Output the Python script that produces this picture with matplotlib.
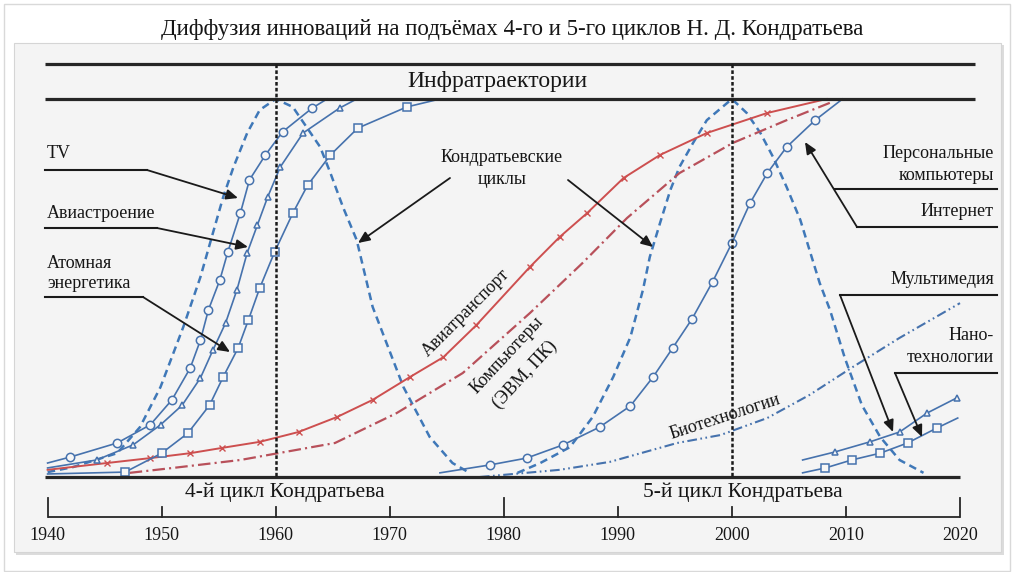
import matplotlib
matplotlib.use("Agg")
import matplotlib.pyplot as plt
import matplotlib.transforms as mtransforms
from matplotlib.patches import Rectangle

plt.rcParams['font.family'] = ['Liberation Serif', 'DejaVu Serif']
plt.rcParams['lines.scale_dashes'] = False

# ---------------- data ----------------
title = "Диффузия инноваций на подъёмах 4-го и 5-го циклов Н. Д. Кондратьева"
band_label = "Инфратраектории"
year_ticks = [1940, 1950, 1960, 1970, 1980, 1990, 2000, 2010, 2020]
major_ticks = [1940, 1980, 2020]
cycle_peaks = [1960, 2000]
cycle_labels = ["4-й цикл Кондратьева", "5-й цикл Кондратьева"]

# 4th cycle innovations (years, % of saturation)
tv_years = [1940.0, 1942.0, 1946.1, 1949.0, 1950.9, 1952.5, 1953.4, 1954.1, 1955.1,
            1955.8, 1956.9, 1957.7, 1959.1, 1960.6, 1963.2, 1964.5]
tv_pct = [3.7, 5.3, 9.0, 13.8, 20.4, 28.8, 36.2, 44.2, 52.1,
          59.5, 69.8, 78.6, 85.2, 91.3, 97.6, 100]

avia_years = [1940.0, 1944.3, 1947.5, 1949.9, 1951.8, 1953.4, 1954.5, 1955.6, 1956.6,
              1957.5, 1958.4, 1959.3, 1960.4, 1962.4, 1965.6, 1967.1]
avia_pct = [2.4, 4.5, 8.5, 13.8, 19.0, 26.2, 33.6, 40.7, 49.5,
            59.3, 66.7, 74.1, 82.0, 91.0, 97.6, 100]

atom_years = [1940.0, 1946.8, 1950.0, 1952.3, 1954.2, 1955.4, 1956.7, 1957.6, 1958.6,
              1959.9, 1961.5, 1962.8, 1964.8, 1967.2, 1971.5, 1974.4]
atom_pct = [0.8, 1.3, 6.3, 11.6, 19.0, 26.5, 34.1, 41.5, 50.0,
            59.5, 69.8, 77.2, 85.2, 92.3, 97.9, 100]

# Long-run infra-trajectories
airtransport_years = [1940.0, 1945.2, 1949.0, 1952.5, 1955.3, 1958.6, 1962.0, 1965.4, 1968.5,
                      1971.8, 1974.7, 1977.6, 1982.3, 1984.9, 1987.3, 1990.5, 1993.7,
                      1997.8, 2003.1, 2008.3]
airtransport_pct = [1.9, 3.7, 5.0, 6.3, 7.7, 9.3, 11.9, 15.9, 20.4,
                    26.5, 31.7, 40.2, 55.6, 63.5, 69.8, 79.1, 85.2,
                    91.0, 96.3, 100]

computers_years = [1947.2, 1951.0, 1956.9, 1965.2, 1970.6, 1976.4, 1982.3, 1986.9,
                   1990.8, 1995.4, 2000.1, 2004.8, 2008.6]
computers_pct = [1.1, 2.4, 4.5, 9.0, 16.9, 27.5, 43.4, 56.6,
                 68.5, 80.4, 88.4, 94.4, 99.0]

# 5th cycle innovations
internet_years = [1974.4, 1978.8, 1982.0, 1985.2, 1988.4, 1991.1, 1993.1, 1994.8, 1996.5,
                  1998.3, 2000.0, 2001.6, 2003.1, 2004.8, 2007.3, 2009.7]
internet_pct = [1.1, 3.2, 5.0, 8.5, 13.2, 18.8, 26.5, 34.1, 41.8,
                51.6, 61.9, 72.5, 80.4, 87.3, 94.4, 100]

biotech_years = [1977.9, 1984.9, 1989.3, 1995.2, 1999.0, 2003.1, 2006.8, 2010.6, 2014.7, 2020.0]
biotech_pct = [0.0, 1.9, 4.0, 9.0, 11.1, 15.6, 21.7, 29.1, 36.8, 46.0]

multimedia_years = [2006.2, 2009.0, 2012.1, 2014.7, 2017.1, 2019.7]
multimedia_pct = [4.5, 6.6, 9.3, 11.9, 16.9, 20.9]

nano_years = [2006.2, 2008.2, 2010.5, 2013.0, 2015.4, 2018.0, 2019.8]
nano_pct = [1.1, 2.4, 4.5, 6.3, 9.0, 13.0, 15.6]

# Kondratiev waves (bell-shaped)
wave4_years = [1940.0, 1942.2, 1946.1, 1948.1, 1949.9, 1951.9, 1953.4, 1954.5, 1955.4,
               1956.3, 1957.5, 1958.6, 1960.0, 1961.5, 1962.7, 1963.9, 1964.8, 1965.9,
               1967.1, 1968.5, 1971.2, 1973.5, 1975.5, 1977.0]
wave4_pct = [1.3, 2.6, 6.3, 13.2, 23.8, 39.7, 52.9, 64.6, 74.1,
             82.0, 91.0, 97.1, 100, 97.9, 92.6, 87.3, 80.4, 71.4,
             62.7, 45.0, 23.8, 10.6, 3.7, 1.1]

wave5_years = [1981.2, 1983.2, 1985.8, 1987.8, 1989.6, 1991.1, 1992.2, 1992.8, 1993.7,
               1994.6, 1995.4, 1996.6, 1997.8, 2000.0, 2001.3, 2002.5, 2003.6, 2004.8,
               2006.0, 2006.8, 2007.7, 2008.6, 2009.9, 2011.4, 2013.0, 2014.7, 2016.8]
wave5_pct = [1.1, 3.7, 7.9, 15.9, 26.5, 37.0, 49.5, 58.2, 67.2,
             75.9, 82.0, 88.4, 94.4, 100, 96.3, 91.0, 84.7, 76.7,
             68.0, 60.1, 51.3, 44.2, 31.5, 19.0, 10.6, 4.5, 1.1]

# ---------------- figure ----------------
W, H = 1014, 572
fig = plt.figure(figsize=(W / 100, H / 100), dpi=100)
fig.patch.set_facecolor('white')

# pixel-based transform for layout elements (origin top-left)
px = mtransforms.Affine2D().scale(1 / W, -1 / H).translate(0, 1) + fig.transFigure

# data axes covering the whole figure; year/percent scale calibrated to the layout
PX_PER_YEAR, PX_1980 = 11.405, 503.8
BASE_PY, PX_PER_PCT = 477.0, 3.78
ax = fig.add_axes([0, 0, 1, 1])
ax.set_xlim(1980 - PX_1980 / PX_PER_YEAR, 1980 + (W - PX_1980) / PX_PER_YEAR)
ax.set_ylim((BASE_PY - H) / PX_PER_PCT, BASE_PY / PX_PER_PCT)
ax.axis('off')
xpx = mtransforms.blended_transform_factory(ax.transData, px)

# panel
for rect in (
    Rectangle((4, 4), 1006, 567, facecolor='white', edgecolor='#d9d9d9', lw=1.0),
    Rectangle((16, 45), 988, 510, facecolor='#dcdcdc', edgecolor='none'),
    Rectangle((14, 43), 987, 509, facecolor='#f4f4f4', edgecolor='#d5d5d5', lw=0.8),
):
    rect.set_transform(px)
    rect.set_zorder(0)
    rect.set_clip_on(False)
    ax.add_patch(rect)

ink = '#161616'
dark = '#262626'
blue = '#4672ad'
wave_blue = '#3f78b8'
red = '#cd4f4f'
red2 = '#b8505a'

# title
ax.text(512, 30, title, transform=px, ha='center', va='center', fontsize=16.5, color=ink)

# infra-trajectory band
for y in (64, 99):
    ax.plot([45, 975], [y, y], transform=px, color=dark, lw=2.3, solid_capstyle='butt', zorder=5)
ax.text(497, 82, band_label, transform=px, ha='center', va='center', fontsize=17, color=ink)

# baseline
ax.plot([45, 960], [477, 477], transform=px, color=dark, lw=2.3, solid_capstyle='butt', zorder=5)

# cycle dividers
for yr in cycle_peaks:
    ax.plot([yr, yr], [64, 477], transform=xpx, color='#1a1a1a', lw=1.8,
            linestyle=(0, (2.6, 1.6)), zorder=6)

# time axis
ax.plot([year_ticks[0], year_ticks[-1]], [517, 517], transform=xpx, color=dark, lw=1.3,
        solid_capstyle='butt')
for yr in year_ticks:
    top = 498 if yr in major_ticks else 507
    ax.plot([yr, yr], [top, 517], transform=xpx, color=dark, lw=1.3)
    ax.text(yr, 536, str(yr), transform=xpx, ha='center', va='center', fontsize=13, color=ink)
ax.text(1960.8, 492, cycle_labels[0], transform=xpx, ha='center', va='center', fontsize=15.5, color=ink)
ax.text(2001.0, 492, cycle_labels[1], transform=xpx, ha='center', va='center', fontsize=15.5, color=ink)

# waves
ax.plot(wave4_years, wave4_pct, color=wave_blue, lw=1.8, linestyle=(0, (5.5, 3.5)), zorder=2)
ax.plot(wave5_years, wave5_pct, color=wave_blue, lw=1.8, linestyle=(0, (5.5, 3.5)), zorder=2)

# infra trajectories
ax.plot(airtransport_years, airtransport_pct, color=red, lw=1.4, marker='x', ms=5, mew=1.0,
        markevery=slice(1, -1), zorder=3)
ax.plot(computers_years, computers_pct, color=red2, lw=1.6,
        linestyle=(0, (9, 3, 1.5, 3)), zorder=3)

mk = dict(color=blue, lw=1.2, mfc='#f7f7f7', mec=blue, mew=1.1, zorder=4)
ax.plot(tv_years, tv_pct, marker='o', ms=6, markevery=slice(1, -1), **mk)
ax.plot(avia_years, avia_pct, marker='^', ms=5, markevery=slice(1, -1), **mk)
ax.plot(atom_years, atom_pct, marker='s', ms=6, markevery=slice(1, -1), **mk)
ax.plot(internet_years, internet_pct, marker='o', ms=6, markevery=slice(1, -1), **mk)
ax.plot(multimedia_years, multimedia_pct, marker='^', ms=5, markevery=slice(1, None), **mk)
ax.plot(nano_years, nano_pct, marker='s', ms=6, markevery=slice(1, -1), **mk)
ax.plot(biotech_years, biotech_pct, color=blue, lw=1.5,
        linestyle=(0, (7, 2.5, 1.2, 2.5, 1.2, 2.5)), zorder=3)

# inline rotated labels
lab = dict(transform=px, ha='center', va='center', fontsize=13, color=ink)
ax.text(466, 313, "Авиатранспорт", rotation=45, **lab)
ax.text(507, 355, "Компьютеры", rotation=47, **lab)
ax.text(525, 375, "(ЭВМ, ПК)", rotation=47, **lab)
ax.text(725, 417, "Биотехнологии", rotation=18, **lab)

# annotations
arrow = dict(arrowstyle='-|>,head_length=0.5,head_width=0.22', color='#1a1a1a', lw=1.3,
             mutation_scale=14, shrinkA=0, shrinkB=0)

def leader(x0, x1, y):
    ax.plot([x0, x1], [y, y], transform=px, color='#1a1a1a', lw=1.5, zorder=7)

def arrow_to(start, end):
    ax.annotate('', xy=end, xytext=start, xycoords=px, textcoords=px,
                arrowprops=arrow, zorder=7)

ltxt = dict(transform=px, ha='left', va='center', fontsize=13, color=ink)
rtxt = dict(transform=px, ha='right', va='center', fontsize=13, color=ink)

ax.text(47, 154, "TV", **ltxt)
leader(45, 147, 170)
arrow_to((147, 170), (238, 198))

ax.text(47, 213, "Авиастроение", **ltxt)
leader(45, 157, 228)
arrow_to((157, 228), (248, 247))

ax.text(47, 263, "Атомная", **ltxt)
ax.text(47, 283, "энергетика", **ltxt)
leader(45, 143, 297)
arrow_to((143, 297), (230, 352))

ax.text(502, 157, "Кондратьевские", transform=px, ha='center', va='center', fontsize=13, color=ink)
ax.text(502, 180, "циклы", transform=px, ha='center', va='center', fontsize=13, color=ink)
arrow_to((450, 178), (358, 243))
arrow_to((568, 180), (653, 247))

ax.text(994, 154, "Персональные", **rtxt)
ax.text(994, 176, "компьютеры", **rtxt)
leader(835, 997, 189)
ax.text(994, 211, "Интернет", **rtxt)
leader(857, 997, 227)
arrow_to((857, 227), (805, 142))

ax.text(994, 280, "Мультимедия", **rtxt)
leader(840, 997, 295)
arrow_to((840, 295), (893, 432))

ax.text(994, 335, "Нано-", **rtxt)
ax.text(994, 358, "технологии", **rtxt)
leader(895, 997, 373)
arrow_to((895, 373), (922, 437))

fig.savefig('out.png', dpi=100, facecolor='white')
